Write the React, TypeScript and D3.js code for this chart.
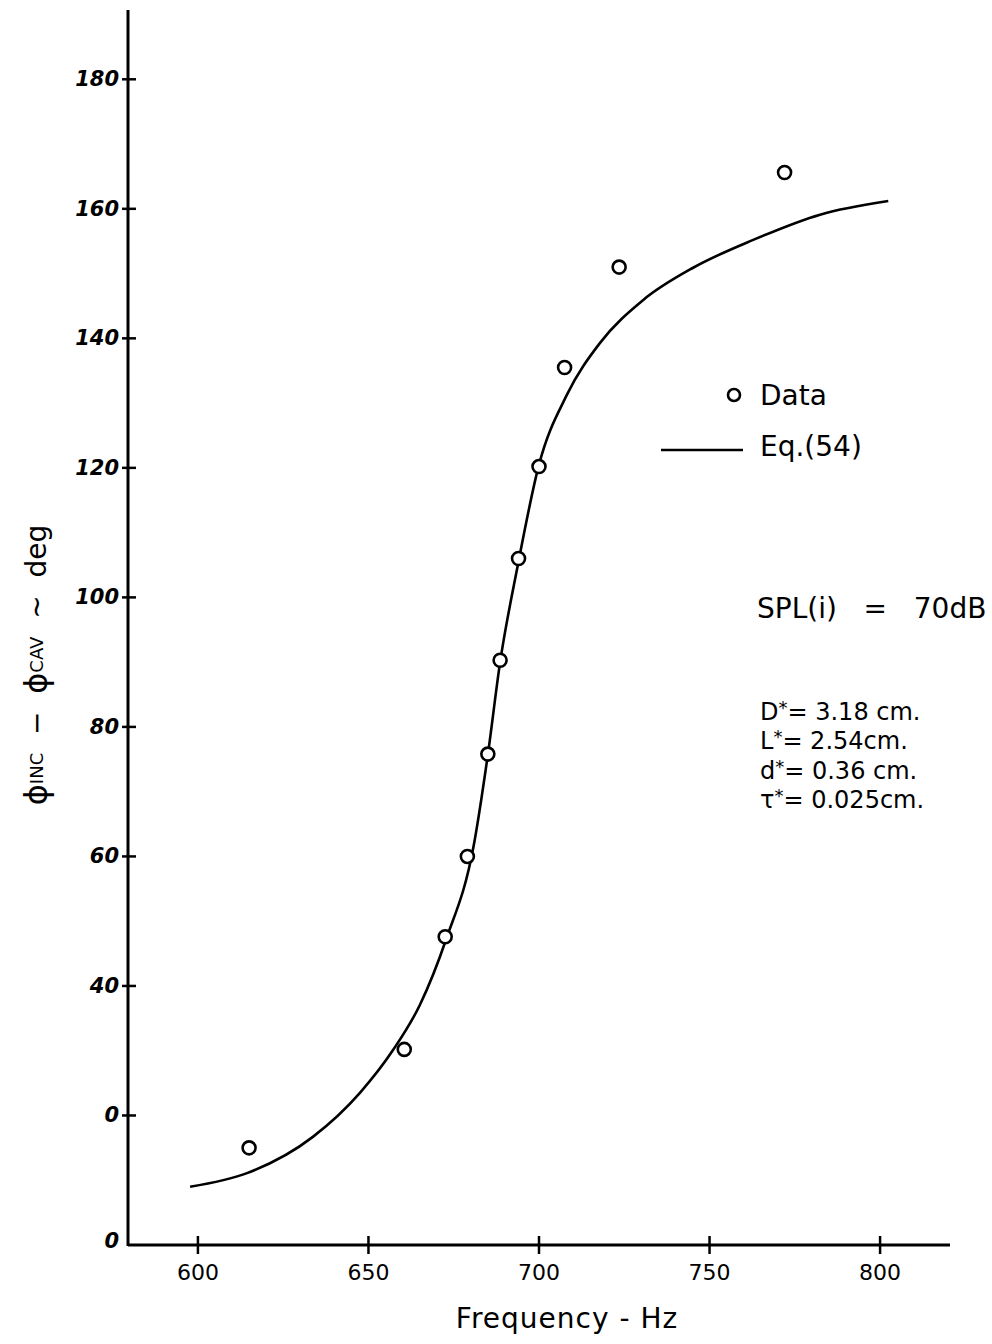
import React from "react";
import * as d3 from "d3";

// Measured data points (Frequency Hz, phase difference deg)
const dataFreq = [615, 660.5, 672.5, 679, 685, 688.6, 694, 700, 707.5, 723.5, 772];
const dataPhase = [15, 30.2, 47.6, 60, 75.8, 90.3, 106, 120.2, 135.5, 151, 165.6];

// Eq. (54) curve
const eqFreq = [597.7, 614.4, 633.7, 647.5, 657.2, 665.1, 672.7, 680.9, 685.0, 688.6, 693.8, 700.0, 708.2, 717.9, 730.5, 745.2, 762.8, 782.4, 802.4];
const eqPhase = [9.0, 11.1, 16.7, 23.5, 30.1, 37.1, 47.1, 61.8, 75.7, 90.0, 105.0, 120.5, 131.3, 139.3, 145.9, 150.9, 155.2, 159.1, 161.2];

const xTicks = [600, 650, 700, 750, 800];
const yTicks = [0, 20, 40, 60, 80, 100, 120, 140, 160, 180];
const yTickLabels = ["0", "0", "40", "60", "80", "100", "120", "140", "160", "180"];

const paramSymbols = ["D", "L", "d", "τ"];
const paramValues = ["= 3.18 cm.", "= 2.54cm.", "= 0.36 cm.", "= 0.025cm."];

const W = 992;
const H = 1344;
const FONT = "'DejaVu Sans', sans-serif";

export default function App() {
  const x = d3.scaleLinear().domain([579.5, 820.5]).range([128, 950]);
  const y = d3.scaleLinear().domain([0, 190.7]).range([1245, 10]);

  const line = d3
    .line<number>()
    .x((_, i) => x(eqFreq[i]))
    .y((d) => y(d))
    .curve(d3.curveMonotoneX);

  const x0 = x.range()[0];
  const y0 = y.range()[0];

  return (
    <svg
      width={W}
      height={H}
      style={{ position: "absolute", left: 0, top: 0, background: "#fff" }}
      fontFamily={FONT}
    >
      <rect x={0} y={0} width={W} height={H} fill="#fff" />
      {/* axes */}
      <line x1={x0} y1={y.range()[1]} x2={x0} y2={y0 + 1} stroke="#000" strokeWidth={3} />
      <line x1={x0} y1={y0} x2={x.range()[1]} y2={y0} stroke="#000" strokeWidth={3} />

      {/* y ticks */}
      {yTicks.map((t, i) => (
        <g key={"yt" + t}>
          {t !== 0 && (
            <line x1={x0 - 6} x2={x0 + 8} y1={y(t)} y2={y(t)} stroke="#000" strokeWidth={2.5} />
          )}
          <text
            x={x0 - 9}
            y={y(t) + (t === 0 ? -4 : 0)}
            textAnchor="end"
            dominantBaseline="central"
            fontSize={21}
            fontWeight="bold"
            fontStyle="italic"
          >
            {yTickLabels[i]}
          </text>
        </g>
      ))}

      {/* x ticks */}
      {xTicks.map((t) => (
        <g key={"xt" + t}>
          <line x1={x(t)} x2={x(t)} y1={y0 - 9} y2={y0 + 9} stroke="#000" strokeWidth={2.5} />
          <text x={x(t)} y={y0 + 27} textAnchor="middle" dominantBaseline="central" fontSize={22}>
            {t}
          </text>
        </g>
      ))}

      {/* Eq. (54) curve */}
      <path d={line(eqPhase) || ""} fill="none" stroke="#000" strokeWidth={2.6} />

      {/* data points */}
      {dataFreq.map((f, i) => (
        <circle
          key={"p" + i}
          cx={x(f)}
          cy={y(dataPhase[i])}
          r={6.5}
          fill="#fff"
          stroke="#000"
          strokeWidth={2.6}
        />
      ))}

      {/* legend */}
      <circle cx={734} cy={395} r={6} fill="#fff" stroke="#000" strokeWidth={2.6} />
      <text x={760} y={395} dominantBaseline="central" fontSize={28}>
        Data
      </text>
      <line x1={661} x2={743} y1={450} y2={450} stroke="#000" strokeWidth={2.6} />
      <text x={760} y={446} dominantBaseline="central" fontSize={28}>
        Eq.(54)
      </text>

      {/* annotations */}
      <text x={757} y={608} dominantBaseline="central" fontSize={28} style={{ whiteSpace: "pre" }}>
        {"SPL(i)   =   70dB"}
      </text>
      {paramSymbols.map((s, i) => (
        <text
          key={"pl" + i}
          x={760}
          y={712 + i * 29.3}
          dominantBaseline="central"
          fontSize={24}
          style={{ whiteSpace: "pre" }}
        >
          <tspan>{s}</tspan>
          <tspan fontSize={18} dy={-5}>*</tspan>
          <tspan dy={5}>{paramValues[i]}</tspan>
        </text>
      ))}

      {/* axis titles */}
      <text
        x={567}
        y={1318}
        textAnchor="middle"
        dominantBaseline="central"
        fontSize={28}
        letterSpacing={1}
      >
        Frequency - Hz
      </text>
      <text
        transform="translate(36,665) rotate(-90)"
        textAnchor="middle"
        dominantBaseline="central"
        fontSize={28}
        style={{ whiteSpace: "pre" }}
      >
        <tspan fontSize={32}>ϕ</tspan>
        <tspan fontSize={18}>INC</tspan>
        <tspan>{"  −  "}</tspan>
        <tspan fontSize={32}>ϕ</tspan>
        <tspan fontSize={18}>CAV</tspan>
        <tspan>{"  ~  deg"}</tspan>
      </text>
    </svg>
  );
}
